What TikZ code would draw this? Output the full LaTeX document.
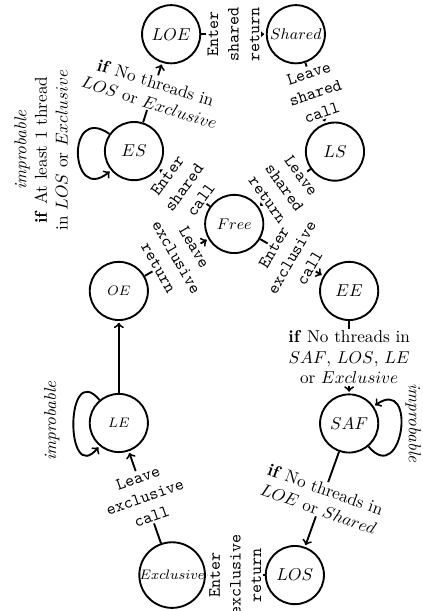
\documentclass[tikz,border=0pt]{standalone}
\usepackage{amsmath}
\usetikzlibrary{arrows,positioning}

\begin{document}
\begin{tikzpicture}[shorten >=1pt, line width=1.1pt, main node/.style={circle,draw,minimum size=1.19cm,inner sep=0pt}, lbl/.style={fill=white,inner sep=1pt,align=center,font=\ttfamily}, cond/.style={fill=white,inner sep=1pt,align=center}, note/.style={align=center,inner sep=1pt}]
\useasboundingbox (0,0) rectangle (8.65,-12.495);
\begin{scope}
\node[main node] (vLOE) at (3.50,-0.70) {$LOE$};
\node[main node] (vShared) at (6.05,-0.70) {\small$Shared$};
\node[main node] (vES) at (2.74,-3.09) {$ES$};
\node[main node] (vLS) at (6.85,-3.10) {$LS$};
\node[main node] (vFree) at (4.79,-4.58) {\small$Free$};
\node[main node] (vOE) at (2.43,-5.95) {\footnotesize$OE$};
\node[main node] (vEE) at (7.14,-5.95) {$EE$};
\node[main node] (vLE) at (2.43,-8.65) {\footnotesize$LE$};
\node[main node] (vSAF) at (7.14,-8.66) {$SAF$};
\node[main node] (vExcl) at (3.52,-11.76) {\footnotesize$Exclusive$};
\node[main node] (vLOS) at (6.03,-11.76) {$LOS$};
\end{scope}
\node[note,rotate=90] (nES) at (0.84,-3.07) {\textit{improbable}\\\textbf{if} At least 1 thread\\in $LOS$ or $Exclusive$};
\node[note,rotate=90] (nLE) at (1.06,-8.61) {\textit{improbable}};
\node[note,rotate=-90] (nSAF) at (8.45,-8.65) {\textit{improbable}};
\begin{scope}[every edge/.style={draw=black,line width=1.1pt,->}]
\draw  (vLOE) edge node[lbl,rotate=90] {Enter\\shared\\return} (vShared);
\draw  (vShared) edge node[lbl,rotate=18.4] {Leave\\shared\\call} (vLS);
\draw  (vLS) edge node[lbl,rotate=-54.3] {Leave\\shared\\return} (vFree);
\draw  (vFree) edge node[lbl,rotate=54] {Enter\\shared\\call} (vES);
\draw  (vOE) edge node[lbl,rotate=-59.9] {Leave\\exclusive\\return} (vFree);
\draw  (vFree) edge node[lbl,rotate=59.8] {Enter\\exclusive\\call} (vEE);
\draw  (vES) edge node[cond,rotate=-17.6] {\textbf{if} No threads in\\$LOS$ or $Exclusive$} (vLOE);
\draw  (vEE) edge node[cond] {\textbf{if} No threads in\\$SAF$, $LOS$, $LE$\\or $Exclusive$} (vSAF);
\draw  (vSAF) edge node[cond,rotate=-19.7] {\textbf{if} No threads in\\$LOE$ or $Shared$} (vLOS);
\draw  (vLOS) edge node[lbl,rotate=90] {Enter\\exclusive\\return} (vExcl);
\draw  (vExcl) edge node[lbl,rotate=19.3] {Leave\\exclusive\\call} (vLE);
\draw  (vLE) edge (vOE);
\draw  (vES) edge[out=145,in=220,distance=1.1cm] (vES);
\draw  (vLE) edge[out=130,in=230,distance=1.1cm] (vLE);
\draw  (vSAF) edge[out=-50,in=35,distance=1.1cm] (vSAF);
\end{scope}
\end{tikzpicture}
\end{document}
